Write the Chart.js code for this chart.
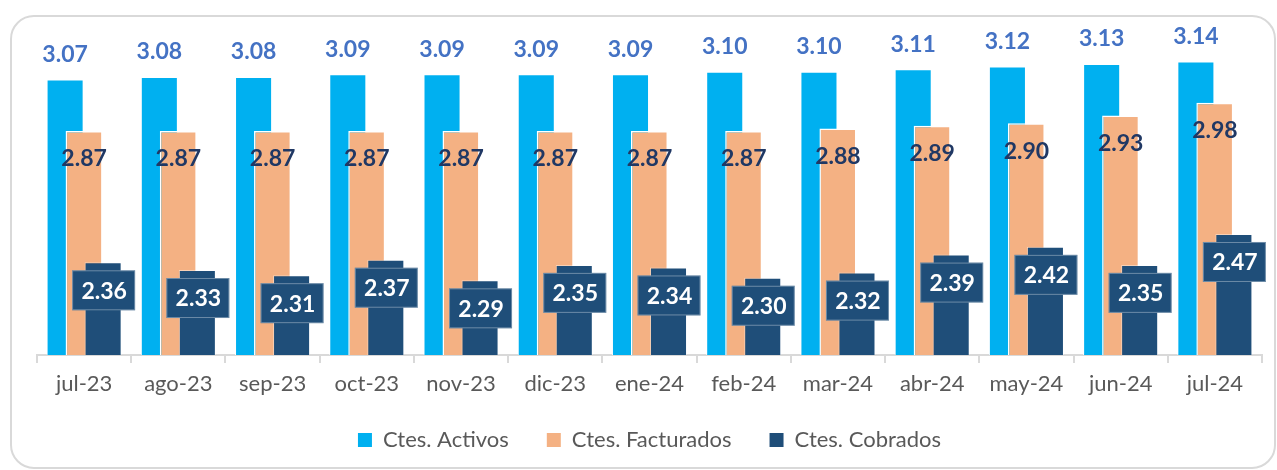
<!DOCTYPE html>
<html>
<head>
<meta charset="utf-8">
<script src="https://cdn.jsdelivr.net/npm/chart.js@4.4.1/dist/chart.umd.min.js"></script>
<style>
    html, body { margin: 0; padding: 0; background: #fff; }
    .wrap { position: relative; width: 1277px; height: 470px; overflow: hidden; }
    .frame {
        position: absolute; left: 10px; top: 15px; width: 1262px; height: 450px;
        border: 2px solid #d9d9d9; border-radius: 24px;
    }
    canvas { position: absolute; left: 0; top: 0; }
</style>
</head>
<body>
<div class="wrap">
    <div class="frame"></div>
    <canvas id="clientesChart" width="1277" height="470"></canvas>
</div>
<script>
/* =========================
DATA
========================= */
const months = ['jul-23', 'ago-23', 'sep-23', 'oct-23', 'nov-23', 'dic-23', 'ene-24', 'feb-24', 'mar-24', 'abr-24', 'may-24', 'jun-24', 'jul-24'];
const activos = [3.07, 3.08, 3.08, 3.09, 3.09, 3.09, 3.09, 3.10, 3.10, 3.11, 3.12, 3.13, 3.14];
const facturados = [2.87, 2.87, 2.87, 2.87, 2.87, 2.87, 2.87, 2.87, 2.88, 2.89, 2.90, 2.93, 2.98];
const cobrados = [2.36, 2.33, 2.31, 2.37, 2.29, 2.35, 2.34, 2.30, 2.32, 2.39, 2.42, 2.35, 2.47];

const FONT = 'Lato, "Open Sans", sans-serif';

// draws the bars left to right (so each one sits on top of the previous) + the value labels
const overlapBars = {
    id: 'overlapBars',
    afterLayout(chart) {
        // legend padding is big for the item gaps, pull the row back up
        chart.legend.top -= 16;
        chart.legend.bottom -= 16;
    },
    beforeDatasetsDraw(chart) {
        const ctx = chart.ctx;
        const area = chart.chartArea;

        ctx.save();
        ctx.beginPath();
        ctx.rect(area.left, area.top - 60, area.right - area.left, area.bottom - area.top + 60);
        ctx.clip();
        chart.data.datasets.forEach((ds, i) => {
            const meta = chart.getDatasetMeta(i);
            if (!meta.hidden) meta.controller.draw();
        });
        ctx.restore();

        ctx.save();
        ctx.font = `bold 23px ${FONT}`;
        ctx.textAlign = 'center';
        ctx.textBaseline = 'middle';

        chart.data.datasets.forEach((ds, i) => {
            const meta = chart.getDatasetMeta(i);
            meta.data.forEach((bar, j) => {
                const txt = ds.data[j].toFixed(2);
                if (i === 0) {
                    ctx.fillStyle = '#4472c4';
                    ctx.fillText(txt, bar.x, bar.y - 25);
                } else if (i === 1) {
                    ctx.fillStyle = '#203864';
                    ctx.fillText(txt, bar.x, bar.y + 28);
                } else {
                    // boxed label
                    ctx.fillStyle = '#1f4e79';
                    ctx.fillRect(bar.x - 31, bar.y + 8, 63, 40);
                    ctx.strokeStyle = 'rgba(255,255,255,0.35)';
                    ctx.lineWidth = 1;
                    ctx.strokeRect(bar.x - 31 + 0.5, bar.y + 8.5, 62, 39);
                    ctx.fillStyle = '#ffffff';
                    ctx.fillText(txt, bar.x + 1, bar.y + 29);
                }
            });
        });
        ctx.restore();
        return false;
    }
};

const ctx = document.getElementById('clientesChart').getContext('2d');
new Chart(ctx, {
    type: 'bar',
    data: {
        labels: months,
        datasets: [
            { label: 'Ctes. Activos', data: activos, backgroundColor: '#00b0f0', borderColor: '#ffffff', borderWidth: 1 },
            { label: 'Ctes. Facturados', data: facturados, backgroundColor: '#f4b183', borderColor: '#ffffff', borderWidth: 1.5 },
            { label: 'Ctes. Cobrados', data: cobrados, backgroundColor: '#1f4e79', borderColor: 'rgba(255,255,255,0.4)', borderWidth: 1 }
        ]
    },
    options: {
        responsive: false,
        animation: false,
        categoryPercentage: 0.605,
        barPercentage: 1.95,
        layout: {
            padding: { top: 46, left: 37, right: 15, bottom: -7 }
        },
        plugins: {
            tooltip: { enabled: false },
            legend: {
                position: 'bottom',
                labels: {
                    boxWidth: 14,
                    boxHeight: 14,
                    padding: 38,
                    color: '#595959',
                    font: { family: FONT, size: 22 },
                    generateLabels: chart =>
                        Chart.defaults.plugins.legend.labels.generateLabels(chart).map(l => ({ ...l, lineWidth: 0 }))
                }
            }
        },
        scales: {
            x: {
                grid: {
                    offset: true,
                    drawOnChartArea: false,
                    tickLength: 8,
                    color: '#d9d9d9',
                    lineWidth: 2
                },
                border: { color: '#d9d9d9', width: 2 },
                ticks: {
                    color: '#595959',
                    padding: 8,
                    font: { family: FONT, size: 22 }
                },
                afterFit: s => { s.height = 52; }
            },
            y: {
                display: false,
                min: 2,
                max: 3.2
            }
        }
    },
    plugins: [overlapBars]
});
</script>
</body>
</html>
